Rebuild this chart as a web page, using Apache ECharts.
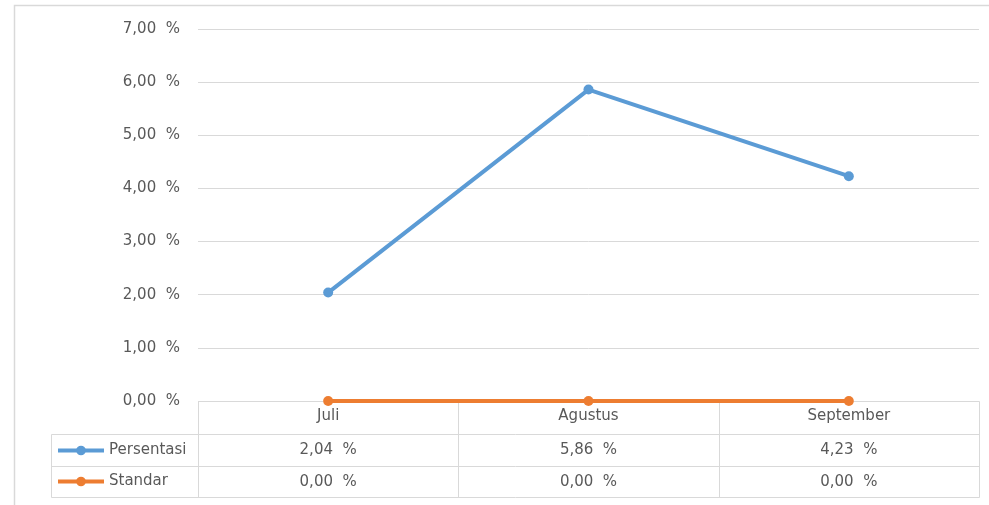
<!DOCTYPE html>
<html>
<head>
<meta charset="utf-8">
<script src="https://cdn.jsdelivr.net/npm/echarts@6/dist/echarts.min.js"></script>
<style>
  html, body { margin: 0; padding: 0; background: #fff; }
  #chart { width: 989px; height: 505px; }
</style>
</head>
<body>
<div id="chart"></div>
<script>
'use strict';

var months = ['Juli', 'Agustus', 'September'];
var persentasi = [2.04, 5.86, 4.23];
var standar = [0.00, 0.00, 0.00];
var yTicks = [0, 1, 2, 3, 4, 5, 6, 7];

var textColor = '#595959';
var lineColor = '#d9d9d9';
var fontFamily = 'DejaVu Sans';
var fontSize = 15;

var fmt = function (v) {
    return v.toFixed(2).replace('.', ',') + '  %';
};

var myChart = echarts.init(document.getElementById('chart'));

var option = {
    backgroundColor: '#fff',
    animation: false,
    textStyle: {
        fontFamily: fontFamily,
        fontSize: fontSize,
        color: textColor
    },
    grid: {
        left: 198,
        right: 10,
        top: 29,
        bottom: 104
    },
    legend: {
        orient: 'vertical',
        left: 51,
        top: 438,
        itemWidth: 46,
        itemHeight: 12,
        itemGap: 16,
        lineStyle: { width: 4 },
        textStyle: {
            fontFamily: fontFamily,
            fontSize: fontSize,
            color: textColor,
            lineHeight: 12
        },
        data: ['Persentasi', 'Standar']
    },
    xAxis: {
        type: 'category',
        data: months,
        boundaryGap: true,
        axisLine: { show: false },
        axisTick: { show: false },
        axisLabel: {
            margin: 8,
            fontFamily: fontFamily,
            fontSize: fontSize,
            color: textColor
        }
    },
    yAxis: {
        type: 'value',
        min: yTicks[0],
        max: yTicks[yTicks.length - 1],
        interval: 1,
        axisLine: { show: false },
        axisTick: { show: false },
        splitLine: { lineStyle: { color: lineColor, width: 1 } },
        axisLabel: {
            margin: 18,
            fontFamily: fontFamily,
            fontSize: fontSize,
            color: textColor,
            formatter: fmt
        }
    },
    series: [
        {
            name: 'Persentasi',
            type: 'line',
            data: persentasi,
            symbol: 'circle',
            symbolSize: 10,
            color: '#5b9bd5',
            lineStyle: { width: 4, color: '#5b9bd5' },
            itemStyle: { color: '#5b9bd5' },
            z: 3
        },
        {
            name: 'Standar',
            type: 'line',
            data: standar,
            symbol: 'circle',
            symbolSize: 10,
            color: '#ed7d31',
            lineStyle: { width: 4, color: '#ed7d31' },
            itemStyle: { color: '#ed7d31' },
            z: 4
        }
    ]
};

myChart.setOption(option);

// data table under the plot, laid out from the axis scales
var buildTable = function () {
    var c0 = myChart.convertToPixel({ xAxisIndex: 0 }, 0);
    var c1 = myChart.convertToPixel({ xAxisIndex: 0 }, 1);
    var band = c1 - c0;
    var y0 = Math.round(myChart.convertToPixel({ yAxisIndex: 0 }, 0)) + 0.5;
    var xLeft = Math.round(c0 - band / 2) + 0.5;
    var xRight = Math.round(c0 + band * (months.length - 0.5)) + 0.5;
    var legendLeft = 51.5;
    var rows = [y0, y0 + 33, y0 + 65, y0 + 96];
    var els = [];

    // outer frame
    els.push({
        type: 'rect',
        shape: { x: 14.5, y: 5.5, width: 1000, height: 600 },
        style: { fill: null, stroke: lineColor, lineWidth: 1.5 },
        z: 0
    });

    els.push({
        type: 'line',
        shape: { x1: xLeft, y1: rows[0], x2: xRight, y2: rows[0] },
        style: { stroke: lineColor, lineWidth: 1 },
        z: 1
    });
    for (var r = 1; r < rows.length; r++) {
        els.push({
            type: 'line',
            shape: { x1: legendLeft, y1: rows[r], x2: xRight, y2: rows[r] },
            style: { stroke: lineColor, lineWidth: 1 },
            z: 1
        });
    }
    els.push({
        type: 'line',
        shape: { x1: legendLeft, y1: rows[1], x2: legendLeft, y2: rows[3] },
        style: { stroke: lineColor, lineWidth: 1 },
        z: 1
    });
    for (var i = 0; i <= months.length; i++) {
        var bx = Math.round(c0 + band * (i - 0.5)) + 0.5;
        els.push({
            type: 'line',
            shape: { x1: bx, y1: rows[0], x2: bx, y2: rows[3] },
            style: { stroke: lineColor, lineWidth: 1 },
            z: 1
        });
    }

    var seriesRows = [persentasi, standar];
    for (var s = 0; s < seriesRows.length; s++) {
        var cy = (rows[s + 1] + rows[s + 2]) / 2;
        for (var j = 0; j < months.length; j++) {
            els.push({
                type: 'text',
                x: myChart.convertToPixel({ xAxisIndex: 0 }, j),
                y: cy,
                style: {
                    text: fmt(seriesRows[s][j]),
                    fill: textColor,
                    font: fontSize + 'px "' + fontFamily + '"',
                    align: 'center',
                    verticalAlign: 'middle'
                },
                z: 1
            });
        }
    }

    myChart.setOption({ graphic: { elements: els } });
};

buildTable();
</script>
</body>
</html>
